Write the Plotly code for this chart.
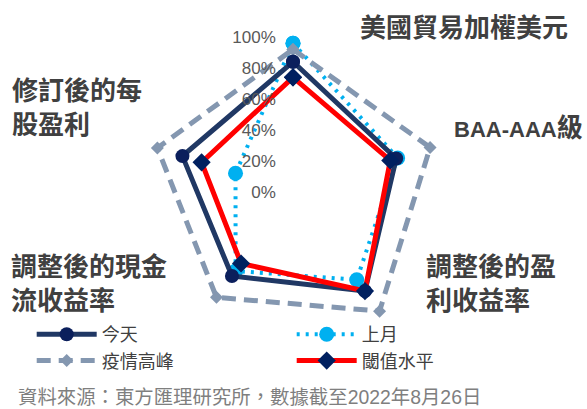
import plotly.graph_objects as go

categories = ["美國貿易加權美元", "BAA-AAA級", "調整後的盈利收益率", "調整後的現金流收益率", "修訂後的每股盈利"]
category_labels = ["美國貿易加權美元",
                   "<span style='font-size:22px'>BAA-AAA</span>級",
                   "調整後的盈<br>利收益率", "調整後的現金<br>流收益率", "修訂後的每<br>股盈利"]
today = [84, 70, 79, 67, 75]
last_month = [96, 71, 70, 63, 39]
pandemic_peak = [92, 93, 95, 84, 92]
threshold = [74, 66, 79, 57, 62]
radial_ticks = [0, 20, 40, 60, 80, 100]
radial_tick_labels = ["0%", "20%", "40%", "60%", "80%", "100%"]
source_note = "資料來源：東方匯理研究所，數據截至2022年8月26日"

FONT = "Liberation Sans Narrow, Liberation Sans, Noto Sans CJK TC, sans-serif"
W, H = 587, 409

def closed(v):
    return list(v) + [v[0]]

theta = closed(categories)
pad = "\u00a0" * 3

fig = go.Figure()
fig.add_trace(go.Scatterpolar(
    r=closed(last_month), theta=theta, name="上月", mode="lines+markers",
    line=dict(color="#00b0f0", width=4, dash="3px,6px"),
    marker=dict(color="#00b0f0", size=15, symbol="circle"), legendrank=2))
fig.add_trace(go.Scatterpolar(
    r=closed(pandemic_peak), theta=theta, name="疫情高峰", mode="lines+markers",
    line=dict(color="#8497b0", width=5, dash="14px,8px"),
    marker=dict(color="#8497b0", size=10, symbol="diamond"), legendrank=3))
fig.add_trace(go.Scatterpolar(
    r=closed(today), theta=theta, name="今天", mode="lines+markers",
    line=dict(color="#203864", width=5),
    marker=dict(color="#0b1f5c", size=14, symbol="circle"), legendrank=1))
fig.add_trace(go.Scatterpolar(
    r=closed(threshold), theta=theta, name="閾值水平", mode="lines+markers",
    line=dict(color="#ff0000", width=5),
    marker=dict(color="#002060", size=14, symbol="diamond"), legendrank=4))

cx, cy, R = 293, 192, 155
fig.update_layout(
    width=W, height=H,
    margin=dict(l=0, r=0, t=0, b=0, autoexpand=False),
    paper_bgcolor="white",
    font=dict(family=FONT, color="#404040"),
    polar=dict(
        domain=dict(x=[(cx - R) / W, (cx + R) / W], y=[(H - cy - R) / H, (H - cy + R) / H]),
        bgcolor="white",
        radialaxis=dict(range=[0, 100], angle=90, tickangle=90, showgrid=False, showline=False,
                        ticks="", tickvals=radial_ticks, ticktext=[t + pad for t in radial_tick_labels],
                        tickfont=dict(size=17, color="#595959", family="Liberation Sans Narrow, Liberation Sans, sans-serif"),
                        side="counterclockwise"),
        angularaxis=dict(rotation=90, direction="clockwise", showgrid=False, showline=False,
                         showticklabels=False, ticks=""),
    ),
    showlegend=True,
    legend=dict(orientation="h", x=0.054, y=(H - 316) / H, xanchor="left", yanchor="top",
                entrywidth=185, entrywidthmode="pixels", itemwidth=60,
                font=dict(size=18, color="#404040", family="Noto Sans CJK TC, sans-serif"),
                bgcolor="rgba(0,0,0,0)", traceorder="normal"),
)

label_pos = [(358, 28), (452, 128), (424, 284), (9, 284), (10, 108)]
for txt, (px, py) in zip(category_labels, label_pos):
    fig.add_annotation(text="<b>" + txt + "</b>", x=px / W, y=1 - py / H, xref="paper", yref="paper",
                       xanchor="left", yanchor="middle", showarrow=False, align="left",
                       font=dict(size=26, color="#404040", family=FONT))

fig.add_annotation(text=source_note, x=16 / W, y=1 - 397 / H, xref="paper", yref="paper",
                   xanchor="left", yanchor="middle", showarrow=False,
                   font=dict(size=19.4, color="#7f7f7f", family=FONT))

fig.write_html("out.html", post_script="document.body.style.margin='0';",
               config={"displayModeBar": False})
